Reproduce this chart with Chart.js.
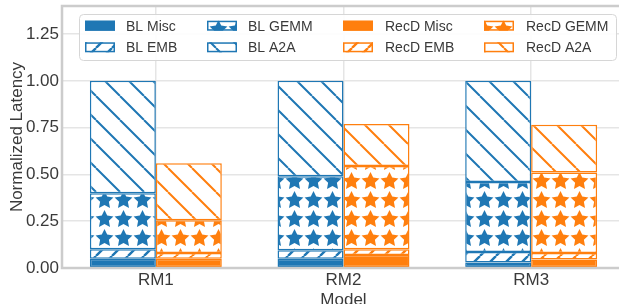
<!DOCTYPE html>
<html>
<head>
<meta charset="utf-8">
<script src="https://cdn.jsdelivr.net/npm/chart.js@4.4.0/dist/chart.umd.min.js"></script>
<style>
  html, body { margin: 0; padding: 0; overflow: hidden; background: #fff; }
  #wrap { width: 625px; height: 304px; }
</style>
</head>
<body>
<div id="wrap"><canvas id="chart"></canvas></div>
<script>
// values
const models = ["RM1", "RM2", "RM3"];
const blMisc = [0.05, 0.05, 0.03];
const blEmb = [0.05, 0.045, 0.055];
const blGemm = [0.30, 0.395, 0.375];
const blA2a = [0.60, 0.51, 0.54];
const recdMisc = [0.05, 0.07, 0.045];
const recdEmb = [0.03, 0.03, 0.035];
const recdGemm = [0.175, 0.445, 0.43];
const recdA2a = [0.305, 0.225, 0.255];
const yTicks = [0, 0.25, 0.5, 0.75, 1.0, 1.25];

const blColor = "#1f77b4";
const recdColor = "#ff7f0e";
const textColor = "#3a3a3a";
const fontFamily = "'Liberation Sans', Arial, sans-serif";

// draws a filled five point star
function star(g, cx, cy, R, r) {
	g.beginPath();
	for (let i = 0; i < 10; i++) {
		let a = -Math.PI / 2 + i * Math.PI / 5;
		let rad = i % 2 == 0 ? R : r;
		g.lineTo(cx + rad * Math.cos(a), cy + rad * Math.sin(a));
	}
	g.closePath();
	g.fill();
}

// hatch fill on white: "emb" = /, "a2a" = \, "gemm" = stars
function makePattern(color, kind) {
	const size = { emb: 16, gemm: 19, a2a: 24 }[kind];
	const c = document.createElement("canvas");
	c.width = size;
	c.height = size;
	const g = c.getContext("2d");
	g.fillStyle = "#ffffff";
	g.fillRect(0, 0, size, size);
	g.strokeStyle = color;
	g.fillStyle = color;
	if (kind == "gemm") {
		star(g, size / 2, size / 2 + 0.8, 9.4, 4.6);
	} else {
		g.lineWidth = kind == "emb" ? 2.4 : 2;
		g.beginPath();
		for (let k = -1; k <= 1; k++) {
			if (kind == "emb") {
				g.moveTo(k * size, size);
				g.lineTo(k * size + size, 0);
			} else {
				g.moveTo(k * size, 0);
				g.lineTo(k * size + size, size);
			}
		}
		g.stroke();
	}
	return g.createPattern(c, "repeat");
}

var segment = (label, data, stack, color, kind) => ({
	label: label,
	data: data,
	stack: stack,
	backgroundColor: kind == "misc" ? color : makePattern(color, kind),
	borderColor: color,
	borderWidth: 1.5,
	borderSkipped: false
});

const datasets = [
	segment("BL Misc", blMisc, "BL", blColor, "misc"),
	segment("BL EMB", blEmb, "BL", blColor, "emb"),
	segment("BL GEMM", blGemm, "BL", blColor, "gemm"),
	segment("BL A2A", blA2a, "BL", blColor, "a2a"),
	segment("RecD Misc", recdMisc, "RecD", recdColor, "misc"),
	segment("RecD EMB", recdEmb, "RecD", recdColor, "emb"),
	segment("RecD GEMM", recdGemm, "RecD", recdColor, "gemm"),
	segment("RecD A2A", recdA2a, "RecD", recdColor, "a2a")
];

// frame, axis titles and a matplotlib-like legend (column major, 4 columns)
const decorations = {
	id: "decorations",
	afterDatasetsDraw(chart) {
		const g = chart.ctx;
		const a = chart.chartArea;
		g.save();
		g.strokeStyle = "#cccccc";
		g.lineWidth = 2.5;
		g.strokeRect(a.left, a.top, a.right - a.left, a.bottom - a.top);

		g.fillStyle = textColor;
		g.font = "17px " + fontFamily;
		g.textAlign = "center";
		g.textBaseline = "middle";
		g.fillText("Model", (a.left + a.right) / 2, 300);
		g.translate(17, (a.top + a.bottom) / 2);
		g.rotate(-Math.PI / 2);
		g.fillText("Normalized Latency", 0, 0);
		g.restore();

		// legend box
		g.save();
		g.beginPath();
		g.roundRect(79.5, 14.5, 537, 46, 4);
		g.fillStyle = "rgba(255,255,255,0.9)";
		g.fill();
		g.strokeStyle = "#d6d6d6";
		g.lineWidth = 1;
		g.stroke();

		const swatchX = [85, 207, 343, 484];
		const textX = [126, 248, 385, 526];
		const rowY = [25.7, 47.3];
		g.font = "14px " + fontFamily;
		g.textAlign = "left";
		g.textBaseline = "middle";
		chart.data.datasets.forEach((ds, i) => {
			const col = Math.floor(i / 2);
			const row = i % 2;
			const y = rowY[row];
			g.fillStyle = ds.backgroundColor;
			g.fillRect(swatchX[col], y - 5, 30, 10);
			g.strokeStyle = ds.borderColor;
			g.lineWidth = 1.5;
			g.strokeRect(swatchX[col] + 0.75, y - 4.25, 28.5, 8.5);
			g.fillStyle = textColor;
			g.fillText(ds.label, textX[col], y + 1);
		});
		g.restore();
	}
};

new Chart("chart", {
	type: "bar",
	data: { labels: models, datasets: datasets },
	plugins: [decorations],
	options: {
		responsive: true,
		maintainAspectRatio: false,
		animation: false,
		layout: { padding: { top: 6, left: 0, right: 0, bottom: 0 } },
		datasets: { bar: { categoryPercentage: 0.703, barPercentage: 1.0 } },
		plugins: {
			legend: { display: false },
			tooltip: { enabled: false }
		},
		scales: {
			x: {
				stacked: true,
				offset: true,
				grid: { offset: false, color: "#e5e5e5", lineWidth: 1.5, drawTicks: false },
				border: { display: false },
				ticks: { color: textColor, font: { family: fontFamily, size: 17 }, padding: 2 },
				afterFit(s) {
					s.height = 36;
					s.paddingLeft = 0;
					s.paddingRight = 0;
				}
			},
			y: {
				stacked: true,
				min: 0,
				max: 1.4,
				afterBuildTicks(s) {
					s.ticks = yTicks.map(v => ({ value: v }));
				},
				grid: { color: "#e5e5e5", lineWidth: 1.5, drawTicks: false },
				border: { display: false },
				ticks: {
					color: textColor,
					font: { family: fontFamily, size: 17 },
					padding: 3,
					callback: v => v.toFixed(2)
				},
				afterFit(s) {
					s.width = 62;
					s.paddingTop = 0;
					s.paddingBottom = 0;
				}
			}
		}
	}
});
</script>
</body>
</html>
